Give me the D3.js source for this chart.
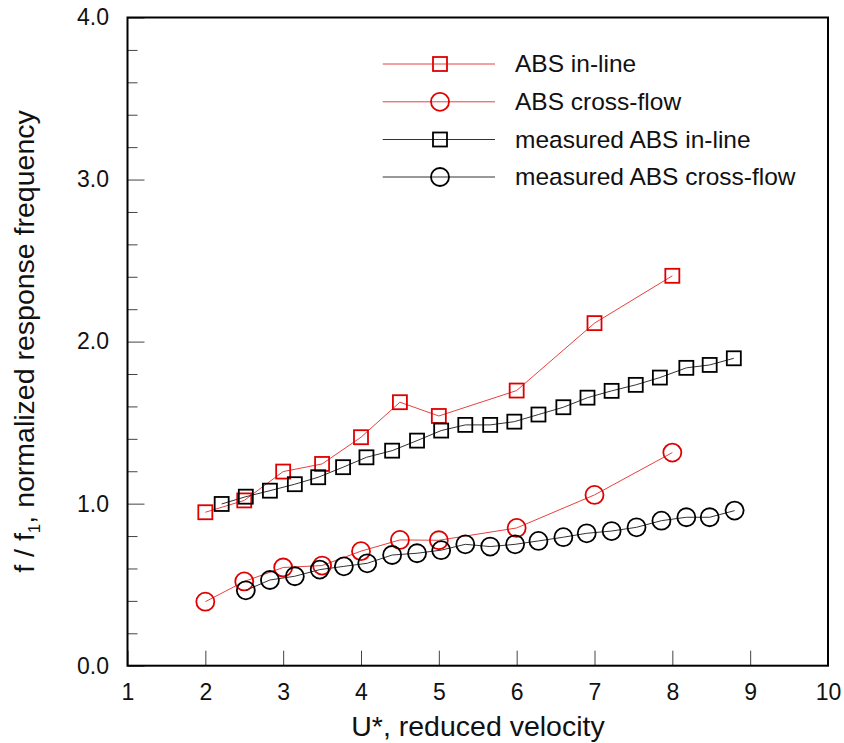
<!DOCTYPE html>
<html>
<head>
<meta charset="utf-8">
<script src="https://cdn.jsdelivr.net/npm/d3@7"></script>
<style>
  html, body { margin: 0; padding: 0; background: #fff; }
  svg { display: block; font-family: "Liberation Sans", Arial, sans-serif; }
</style>
</head>
<body>
<svg id="chart" width="844" height="743"></svg>
<script>
// Reduced velocity U* and normalized response frequency f/f1
const absInlineU = [2, 2.5, 3, 3.5, 4, 4.5, 5, 6, 7, 8];
const absInlineF = [0.947, 1.02, 1.198, 1.245, 1.41, 1.626, 1.541, 1.698, 2.114, 2.406];

const absCrossU = [2, 2.5, 3, 3.5, 4, 4.5, 5, 6, 7, 8];
const absCrossF = [0.395, 0.52, 0.606, 0.618, 0.707, 0.776, 0.774, 0.85, 1.054, 1.315];

const measInlineU = [2.21, 2.52, 2.83, 3.15, 3.45, 3.77, 4.07, 4.40, 4.72, 5.03, 5.34,
                     5.66, 5.97, 6.28, 6.60, 6.91, 7.22, 7.53, 7.84, 8.18, 8.48, 8.79];
const measInlineF = [0.998, 1.043, 1.08, 1.12, 1.163, 1.225, 1.286, 1.327, 1.389, 1.451, 1.486,
                     1.486, 1.506, 1.55, 1.595, 1.654, 1.696, 1.733, 1.778, 1.838, 1.856, 1.897];

const measCrossU = [2.52, 2.83, 3.15, 3.47, 3.78, 4.08, 4.40, 4.72, 5.03, 5.34,
                    5.66, 5.98, 6.28, 6.60, 6.90, 7.22, 7.54, 7.86, 8.18, 8.48, 8.80];
const measCrossF = [0.465, 0.529, 0.552, 0.593, 0.613, 0.632, 0.683, 0.694, 0.713, 0.749,
                    0.735, 0.749, 0.770, 0.793, 0.817, 0.831, 0.854, 0.895, 0.916, 0.916, 0.957];

const xTicks = [1, 2, 3, 4, 5, 6, 7, 8, 9, 10];
const yTicks = [0, 1, 2, 3, 4];
const yMinorTicks = d3.range(0, 4.0001, 0.2).map(v => +v.toFixed(1)).filter(v => !Number.isInteger(v));

const seriesNames = ["ABS in-line", "ABS cross-flow", "measured ABS in-line", "measured ABS cross-flow"];
const seriesColors = ["#e00000", "#e00000", "#000000", "#000000"];
const lineColors = ["#e84040", "#e84040", "#333333", "#333333"];
const seriesShapes = ["square", "circle", "square", "circle"];

const series = [
  { u: absInlineU, f: absInlineF },
  { u: absCrossU, f: absCrossF },
  { u: measInlineU, f: measInlineF },
  { u: measCrossU, f: measCrossF }
].map((s, i) => ({
  name: seriesNames[i], color: seriesColors[i], lineColor: lineColors[i], shape: seriesShapes[i],
  points: s.u.map((u, j) => ({ u, f: s.f[j] }))
}));

const svg = d3.select("#chart");
const plotLeft = 127.5, plotRight = 828, plotTop = 17.5, plotBottom = 665.7;

const x = d3.scaleLinear().domain([1, 10]).range([plotLeft, plotRight]);
const y = d3.scaleLinear().domain([0, 4]).range([plotBottom, plotTop]);

// Axes with inward ticks
const xAxis = svg.append("g")
  .attr("transform", `translate(0,${plotBottom})`)
  .call(d3.axisBottom(x).tickValues(xTicks).tickSize(-15).tickPadding(18).tickFormat(d3.format("d")));

const yAxis = svg.append("g")
  .attr("transform", `translate(${plotLeft},0)`)
  .call(d3.axisLeft(y).tickValues(yTicks).tickSize(-17).tickPadding(18.5).tickFormat(d3.format(".1f")));

const yMinor = svg.append("g")
  .attr("transform", `translate(${plotLeft},0)`)
  .call(d3.axisLeft(y).tickValues(yMinorTicks).tickSize(-10).tickFormat(""));

[xAxis, yAxis, yMinor].forEach(g => {
  g.select(".domain").remove();
  g.selectAll(".tick line").attr("stroke", "#444").attr("stroke-width", 1);
  g.selectAll(".tick text")
    .attr("fill", "#111")
    .style("font-size", "23px")
    .style("font-family", "'Liberation Sans', Arial, sans-serif");
});

// Frame
svg.append("rect")
  .attr("x", plotLeft).attr("y", plotTop)
  .attr("width", plotRight - plotLeft).attr("height", plotBottom - plotTop)
  .attr("fill", "none").attr("stroke", "#000").attr("stroke-width", 2);

// Axis titles
svg.append("text")
  .attr("x", 478).attr("y", 736)
  .attr("text-anchor", "middle")
  .style("font-size", "28.5px").attr("fill", "#111")
  .text("U*, reduced velocity");

const yTitle = svg.append("text")
  .attr("transform", "translate(34,341.5) rotate(-90)")
  .attr("text-anchor", "middle")
  .style("font-size", "28.5px").attr("fill", "#111");
yTitle.append("tspan").text("f / f");
yTitle.append("tspan").attr("dy", 6).style("font-size", "17px").text("1");
yTitle.append("tspan").attr("dy", -6).text(", normalized response frequency");

// Marker drawing
function drawMarker(g, shape, color, cx, cy) {
  if (shape === "square") {
    g.append("rect")
      .attr("x", cx - 7).attr("y", cy - 7)
      .attr("width", 14).attr("height", 14)
      .attr("fill", "none").attr("stroke", color).attr("stroke-width", 1.8);
  } else {
    g.append("circle")
      .attr("cx", cx).attr("cy", cy).attr("r", 9)
      .attr("fill", "none").attr("stroke", color).attr("stroke-width", 1.8);
  }
}

const line = d3.line().x(d => x(d.u)).y(d => y(d.f));
const plot = svg.append("g");

series.forEach(s => {
  const g = plot.append("g");
  g.append("path")
    .datum(s.points)
    .attr("d", line)
    .attr("fill", "none")
    .attr("stroke", s.lineColor)
    .attr("stroke-width", 1);
  s.points.forEach(p => drawMarker(g, s.shape, s.color, x(p.u), y(p.f)));
});

// Legend
const legend = svg.append("g");
const legendRows = [64, 101.8, 139.5, 177];
series.forEach((s, i) => {
  const ly = legendRows[i];
  legend.append("line")
    .attr("x1", 382.7).attr("x2", 495)
    .attr("y1", ly).attr("y2", ly)
    .attr("stroke", s.lineColor).attr("stroke-width", 1);
  drawMarker(legend, s.shape, s.color, 440, ly);
  legend.append("text")
    .attr("x", 515).attr("y", ly + 8)
    .style("font-size", "24.5px").attr("fill", "#111")
    .text(s.name);
});
</script>
</body>
</html>
